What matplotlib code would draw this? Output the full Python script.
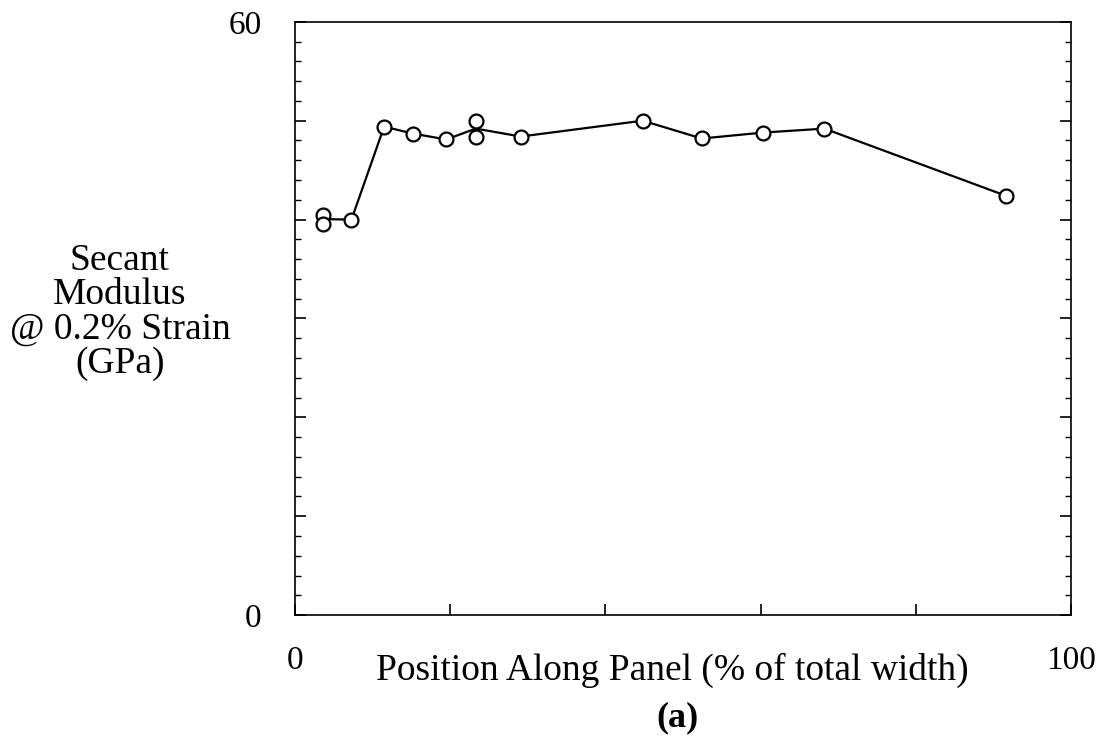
import matplotlib.pyplot as plt
import pandas as pd

plt.rcParams["font.family"] = ["Liberation Serif", "DejaVu Serif"]

# Olcum noktalari (konum %, sekant modul GPa)
konum = [3.6, 3.6, 7.3, 11.5, 15.2, 19.5, 23.3, 23.3, 29.1, 44.8, 52.4, 60.3, 68.2, 91.6]
modul = [40.5, 39.6, 40.0, 49.4, 48.7, 48.1, 50.0, 48.4, 48.4, 50.0, 48.2, 48.8, 49.2, 42.4]

x_ticks = [0, 20, 40, 60, 80, 100]
x_etiket = ["0", "", "", "", "", "100"]
y_ticks = [0, 10, 20, 30, 40, 50, 60]
y_etiket = ["0", "", "", "", "", "", "60"]
y_minor = list(range(0, 61, 2))

df = pd.DataFrame({"konum": konum, "modul": modul})
# Ayni konumdaki olcumlerin ortalamasi cizgiye
cizgi = df.groupby("konum")["modul"].mean()

fig = plt.figure(figsize=(11, 7.52), dpi=100)
ax = fig.add_axes([0.268, 0.182, 0.706, 0.789])

ax.plot(cizgi.index, cizgi.values, color="black", lw=1.6, zorder=2)
ax.plot(df["konum"], df["modul"], linestyle="none", marker="o", ms=10,
        mfc="white", mec="black", mew=1.6, zorder=3)

ax.set_xlim(0, 100)
ax.set_ylim(0, 60)

ax.set_xticks(x_ticks)
ax.set_xticklabels(x_etiket)
ax.set_yticks(y_ticks)
ax.set_yticklabels(y_etiket)
ax.set_yticks(y_minor, minor=True)

ax.tick_params(axis="x", direction="in", length=8, width=1.2, pad=22,
               labelsize=24, top=False)
ax.tick_params(axis="y", which="major", direction="in", length=8, width=1.2,
               pad=24, labelsize=24, right=True)
ax.tick_params(axis="y", which="minor", direction="in", length=4, width=1.0,
               right=True)
for s in ax.spines.values():
    s.set_linewidth(1.2)

fig.text(0.109, 0.585, "Secant\nModulus\n@ 0.2% Strain\n(GPa)", ha="center",
         va="center", fontsize=27, linespacing=1.0)
fig.text(0.611, 0.109, "Position Along Panel (% of total width)", ha="center",
         va="center", fontsize=27)
fig.text(0.616, 0.045, "(a)", ha="center", va="center", fontsize=26,
         fontweight="bold")

fig.savefig("out.png", dpi=100)
plt.close()
